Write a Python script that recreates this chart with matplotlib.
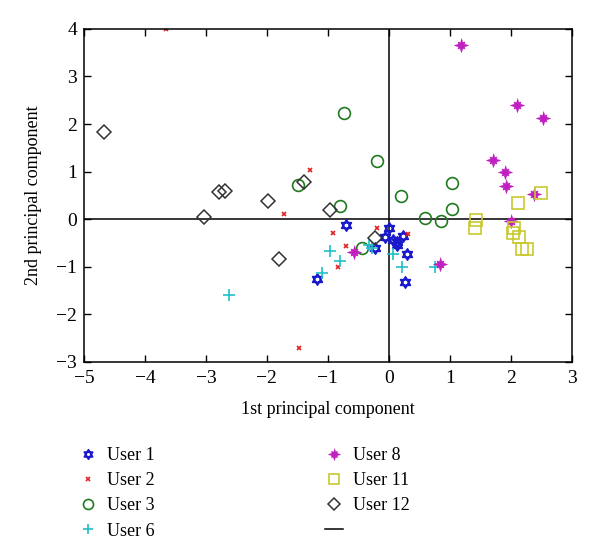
import matplotlib.pyplot as plt
from matplotlib.path import Path
from matplotlib.lines import Line2D
import numpy as np

plt.rcParams['font.family'] = ['Liberation Serif', 'DejaVu Serif']
plt.rcParams['font.size'] = 13

# values
u1_x = [-0.71, 0.0, -0.07, 0.06, 0.14, 0.13, 0.23, 0.30, -0.23, 0.27, -1.18]
u1_y = [-0.12, -0.18, -0.37, -0.43, -0.47, -0.54, -0.35, -0.73, -0.60, -1.32, -1.26]
u2_x = [-3.66, -1.30, -1.72, -1.48, -0.91, -0.71, -0.84, -0.20, 0.31]
u2_y = [4.0, 1.04, 0.11, -2.70, -0.30, -0.56, -1.01, -0.19, -0.32]
u3_x = [-0.73, -0.20, 1.04, 0.20, -1.49, -0.80, 0.60, 0.85, 1.03, -0.44]
u3_y = [2.23, 1.23, 0.76, 0.49, 0.71, 0.28, 0.03, -0.04, 0.22, -0.61]
u6_x = [-2.62, -1.10, -0.96, -0.80, -0.32, -0.27, 0.06, 0.22, 0.75]
u6_y = [-1.60, -1.14, -0.66, -0.88, -0.54, -0.61, -0.74, -1.00, -1.00]
u8_x = [1.19, 2.10, 2.53, 1.70, 1.91, 1.92, 2.38, 2.01, 0.84, -0.58]
u8_y = [3.66, 2.40, 2.12, 1.24, 1.00, 0.69, 0.53, -0.03, -0.94, -0.69]
u11_x = [2.49, 2.12, 1.43, 1.41, 2.05, 2.03, 2.13, 2.19, 2.27]
u11_y = [0.55, 0.35, -0.01, -0.19, -0.18, -0.28, -0.37, -0.63, -0.62]
u12_x = [-4.68, -2.78, -2.68, -1.98, -1.39, -3.03, -1.80, -0.97, -0.22]
u12_y = [1.83, 0.57, 0.60, 0.39, 0.78, 0.04, -0.84, 0.20, -0.40]

# star of david marker
tri_up = Path([(0, 1), (0.866, -0.5), (-0.866, -0.5), (0, 1)], closed=True)
tri_dn = Path([(0, -1), (0.866, 0.5), (-0.866, 0.5), (0, -1)], closed=True)
hexstar = Path.make_compound_path(tri_up, tri_dn)

# spiky blob marker for user 8
ang = np.arange(16) * np.pi / 8
rad = np.tile([1.0, 0.45, 0.7, 0.45], 4)
spiky = Path(np.column_stack([rad * np.sin(ang), rad * np.cos(ang)]))

fig = plt.figure(figsize=(6, 5.56), dpi=100)
ax = fig.add_axes([0.14, 0.349, 0.813, 0.599])

ax.axhline(0, color='k', lw=1.1, zorder=1)
ax.axvline(0, color='k', lw=1.1, zorder=1)

h1, = ax.plot(u1_x, u1_y, ls='none', marker=hexstar, ms=8, mfc='none', mec='#1a1acc', mew=1.3, label='User 1')
h2, = ax.plot(u2_x, u2_y, ls='none', marker='x', ms=3.5, mec='#e02020', mew=1.2, label='User 2')
h3, = ax.plot(u3_x, u3_y, ls='none', marker='o', ms=8.5, mfc='none', mec='#207a20', mew=1.2, label='User 3')
h6, = ax.plot(u6_x, u6_y, ls='none', marker='+', ms=9, mec='#20c0c8', mew=1.2, label='User 6')
h8, = ax.plot(u8_x, u8_y, ls='none', marker=spiky, ms=10, mfc='#c020c0', mec='#c020c0', mew=0.5, label='User 8')
h11, = ax.plot(u11_x, u11_y, ls='none', marker='s', ms=9, mfc='none', mec='#c8c830', mew=1.2, label='User 11')
h12, = ax.plot(u12_x, u12_y, ls='none', marker='D', ms=7, mfc='none', mec='#333333', mew=1.1, label='User 12')

ax.set_xlim(-5, 3)
ax.set_ylim(-3, 4)
ax.set_xticks(np.arange(-5, 4, 1))
ax.set_yticks(np.arange(-3, 5, 1))
ax.tick_params(direction='in', top=True, right=True, length=5, width=1, labelsize=14)
ax.tick_params(axis='x', pad=6)
ax.tick_params(axis='y', pad=5)
ax.set_xlabel('1st principal component', fontsize=13, labelpad=10)
ax.set_ylabel('2nd principal component', fontsize=13, labelpad=10)
for s in ax.spines.values():
    s.set_linewidth(1.1)

blank = Line2D([], [], color='k', lw=1.1)
fig.legend([h1, h2, h3, h6, h8, h11, h12, blank],
           ['User 1', 'User 2', 'User 3', 'User 6', 'User 8', 'User 11', 'User 12', ''],
           ncol=2, loc='upper left', bbox_to_anchor=(0.105, 0.225), frameon=False,
           fontsize=13, labelspacing=0.45, columnspacing=9.4, handlelength=1.0,
           handletextpad=0.55, markerscale=0.85)

fig.savefig('out.png', dpi=100)
